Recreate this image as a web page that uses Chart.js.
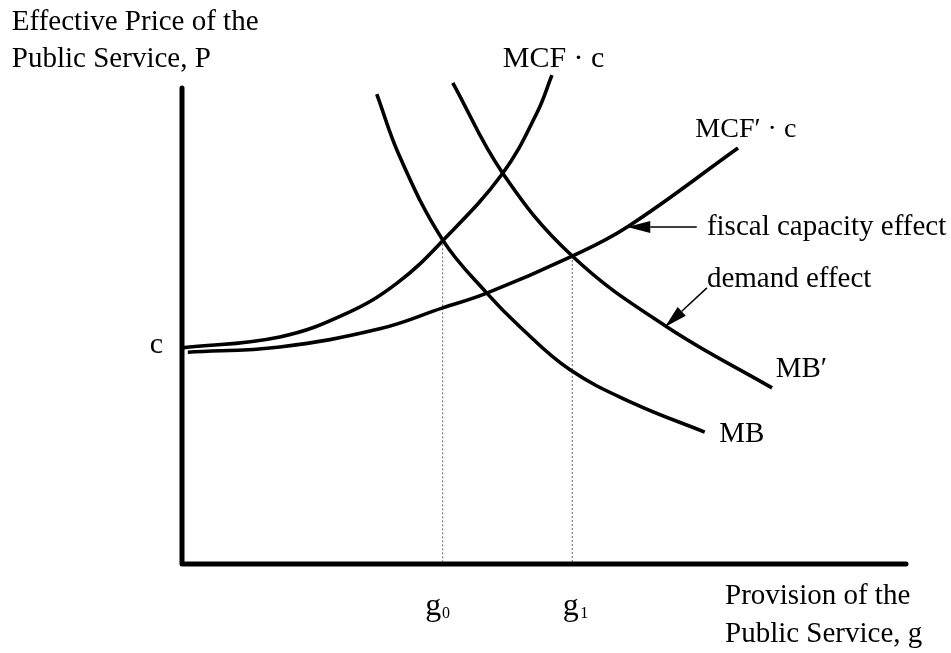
<!DOCTYPE html>
<html>
<head>
<meta charset="utf-8">
<script src="https://cdn.jsdelivr.net/npm/chart.js@4.4.0/dist/chart.umd.min.js"></script>
<style>
  html, body { margin: 0; padding: 0; background: #fff; }
  #wrap { width: 951px; height: 653px; position: relative; }
</style>
</head>
<body>
<div id="wrap"><canvas id="chart"></canvas></div>
<script>
// Curves: g = provision, P = effective price (axes run 0..100)
const mcfG = [0, 13.5, 22.8, 29.7, 36.0, 44.3, 49.0, 51.1];
const mcfP = [45.4, 47.7, 52.7, 59.0, 67.9, 82.1, 94.7, 102.7];
const mcfPrimeG = [0.8, 13.5, 27.3, 36.0, 42.1, 53.9, 61.5, 76.8];
const mcfPrimeP = [44.5, 45.6, 49.4, 53.8, 56.9, 64.7, 70.8, 87.4];
const mbG = [26.9, 30.1, 36.0, 42.1, 46.7, 53.6, 62.3, 72.2];
const mbP = [98.7, 85.5, 68.1, 56.9, 49.8, 40.8, 33.8, 27.7];
const mbPrimeG = [37.4, 44.3, 53.9, 67.0, 81.5];
const mbPrimeP = [101.1, 82.1, 64.7, 49.8, 37.0];
// equilibria g0, g1
const eqG = [36.0, 53.9];
const eqP = [68.0, 64.7];
const axisMax = 100;

const FONT = "'Liberation Serif', 'Times New Roman', serif";

const pts = (gs, ps) => gs.map((g, i) => ({ x: g, y: ps[i] }));

function curve(data) {
  return {
    data,
    showLine: true,
    borderColor: '#000',
    borderWidth: 3.6,
    pointRadius: 0,
    tension: 0.4,
    borderCapStyle: 'butt',
    clip: false,
  };
}

function guide(i) {
  return {
    data: [{ x: eqG[i], y: eqP[i] }, { x: eqG[i], y: 0 }],
    showLine: true,
    borderColor: '#666',
    borderWidth: 1,
    borderDash: [2, 2],
    pointRadius: 0,
    clip: false,
  };
}

// text placed in data coordinates
const labels = [
  { text: 'Effective Price of the', g: -23.5, p: 112.2, size: 29 },
  { text: 'Public Service, P', g: -23.5, p: 104.4, size: 29 },
  { text: 'MCF \u00b7 c', g: 44.3, p: 104.4, size: 30 },
  { text: 'MCF\u2032 \u00b7 c', g: 70.9, p: 89.7, size: 28 },
  { text: 'fiscal capacity effect', g: 72.5, p: 69.1, size: 29 },
  { text: 'demand effect', g: 72.5, p: 58.2, size: 29 },
  { text: 'MB\u2032', g: 82.0, p: 39.3, size: 29 },
  { text: 'MB', g: 74.2, p: 25.6, size: 29 },
  { text: 'c', g: -2.6, p: 44.3, size: 30, align: 'right' },
  { text: 'g', g: 33.6, p: -10.7, size: 32 },
  { text: '0', g: 35.9, p: -11.3, size: 16 },
  { text: 'g', g: 52.6, p: -10.7, size: 32 },
  { text: '1', g: 55.0, p: -11.3, size: 16 },
  { text: 'Provision of the', g: 75.0, p: -8.5, size: 29 },
  { text: 'Public Service, g', g: 75.0, p: -16.3, size: 29 },
];

// arrows: tail -> tip, in data coordinates
const arrows = [
  { from: [71.1, 70.8], to: [61.5, 70.8] },
  { from: [72.5, 58.0], to: [66.7, 49.8] },
];

const annotate = {
  id: 'annotate',
  afterDatasetsDraw(chart) {
    const { ctx, scales: { x, y } } = chart;
    ctx.save();
    ctx.fillStyle = '#000';
    ctx.strokeStyle = '#000';
    arrows.forEach(a => {
      const x1 = x.getPixelForValue(a.from[0]), y1 = y.getPixelForValue(a.from[1]);
      const x2 = x.getPixelForValue(a.to[0]), y2 = y.getPixelForValue(a.to[1]);
      const ang = Math.atan2(y2 - y1, x2 - x1);
      const len = 23, half = 6;
      const bx = x2 - len * Math.cos(ang), by = y2 - len * Math.sin(ang);
      ctx.lineWidth = 1.5;
      ctx.beginPath();
      ctx.moveTo(x1, y1);
      ctx.lineTo(bx, by);
      ctx.stroke();
      ctx.beginPath();
      ctx.moveTo(x2, y2);
      ctx.lineTo(bx + half * Math.sin(ang), by - half * Math.cos(ang));
      ctx.lineTo(bx - half * Math.sin(ang), by + half * Math.cos(ang));
      ctx.closePath();
      ctx.fill();
    });
    ctx.textBaseline = 'alphabetic';
    labels.forEach(l => {
      ctx.font = l.size + 'px ' + FONT;
      ctx.textAlign = l.align || 'left';
      ctx.fillText(l.text, x.getPixelForValue(l.g), y.getPixelForValue(l.p));
    });
    ctx.restore();
  },
};

new Chart(document.getElementById('chart'), {
  type: 'scatter',
  data: {
    datasets: [
      curve(pts(mcfG, mcfP)),
      curve(pts(mcfPrimeG, mcfPrimeP)),
      curve(pts(mbG, mbP)),
      curve(pts(mbPrimeG, mbPrimeP)),
      {
        data: [{ x: 0, y: axisMax }, { x: 0, y: 0 }, { x: axisMax, y: 0 }],
        showLine: true,
        borderColor: '#000',
        borderWidth: 5,
        borderCapStyle: 'round',
        borderJoinStyle: 'round',
        pointRadius: 0,
        clip: false,
      },
      guide(0),
      guide(1),
    ],
  },
  options: {
    responsive: true,
    maintainAspectRatio: false,
    animation: false,
    layout: { padding: { left: 182, right: 45, top: 88, bottom: 89 } },
    plugins: { legend: { display: false }, tooltip: { enabled: false } },
    scales: {
      x: { type: 'linear', min: 0, max: axisMax, display: false },
      y: { type: 'linear', min: 0, max: axisMax, display: false },
    },
  },
  plugins: [annotate],
});
</script>
</body>
</html>
